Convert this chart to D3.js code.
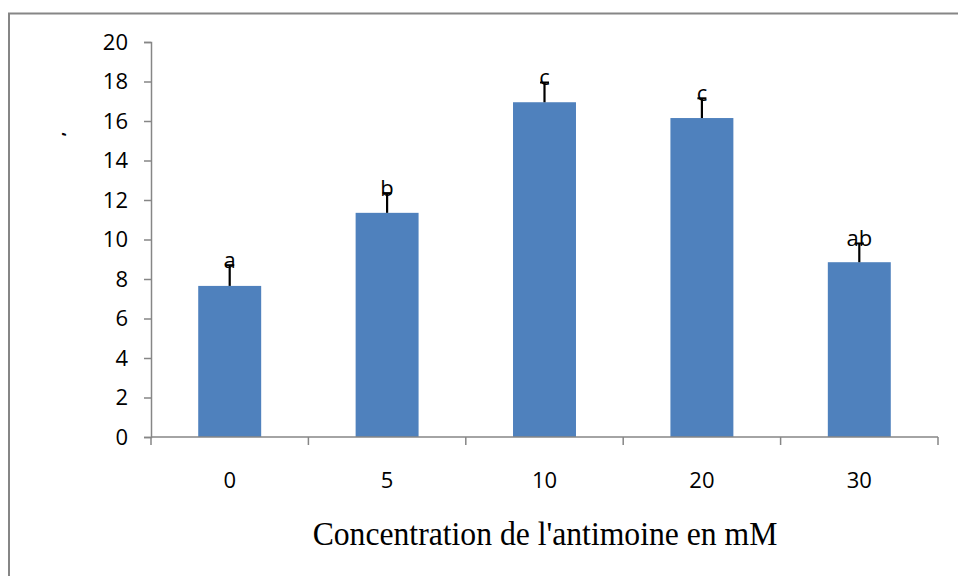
<!DOCTYPE html>
<html>
<head>
<meta charset="utf-8">
<script src="https://cdn.jsdelivr.net/npm/d3@7"></script>
<style>
  body { margin: 0; background: #fff; }
  svg { display: block; }
</style>
</head>
<body>
<svg width="958" height="576"></svg>
<script>
// ### Data ###
var categories = ['0', '5', '10', '20', '30'];
var means = [7.65, 11.35, 16.95, 16.15, 8.85];
var errors = [1.05, 1.0, 1.0, 1.0, 0.95];
var letters = ['a', 'b', 'c', 'c', 'ab'];
var yTicks = [0, 2, 4, 6, 8, 10, 12, 14, 16, 18, 20];

var svg = d3.select('svg');

// outer frame (clipped on right & bottom like the picture)
svg.append('path')
  .attr('d', 'M9,576 V13.5 H958')
  .attr('fill', 'none')
  .attr('stroke', '#868686')
  .attr('stroke-width', 2);

var margin = {left: 151, right: 20, top: 42, bottom: 139};
var plotW = 938 - margin.left;

var x = d3.scaleBand()
  .domain(categories)
  .range([margin.left, margin.left + plotW])
  .paddingInner(0.6)
  .paddingOuter(0.3);

var y = d3.scaleLinear()
  .domain([0, 20])
  .range([437, 42]);

// ### Bars ###
svg.selectAll('rect.bar')
  .data(means)
  .enter()
  .append('rect')
  .attr('class', 'bar')
  .attr('x', (d, i) => x(categories[i]))
  .attr('y', d => y(d))
  .attr('width', x.bandwidth())
  .attr('height', d => y(0) - y(d))
  .attr('fill', '#4f81bd');

// ### Error bars ###
var eb = svg.selectAll('g.err')
  .data(means)
  .enter()
  .append('g')
  .attr('class', 'err');

eb.append('line')
  .attr('x1', (d, i) => x(categories[i]) + x.bandwidth() / 2)
  .attr('x2', (d, i) => x(categories[i]) + x.bandwidth() / 2)
  .attr('y1', d => y(d))
  .attr('y2', (d, i) => y(d + errors[i]))
  .attr('stroke', '#000')
  .attr('stroke-width', 2.2);

eb.append('line')
  .attr('x1', (d, i) => x(categories[i]) + x.bandwidth() / 2 - 4.5)
  .attr('x2', (d, i) => x(categories[i]) + x.bandwidth() / 2 + 4.5)
  .attr('y1', (d, i) => y(d + errors[i]))
  .attr('y2', (d, i) => y(d + errors[i]))
  .attr('stroke', '#000')
  .attr('stroke-width', 2);

// ### Letters ###
svg.selectAll('text.sig')
  .data(means)
  .enter()
  .append('text')
  .attr('class', 'sig')
  .attr('x', (d, i) => x(categories[i]) + x.bandwidth() / 2)
  .attr('y', (d, i) => y(d + errors[i]) + 3)
  .attr('text-anchor', 'middle')
  .attr('font-family', 'Open Sans, sans-serif')
  .attr('font-size', 22)
  .attr('fill', '#000')
  .text((d, i) => letters[i]);

// ### Axes ###
var yAxis = d3.axisLeft(y)
  .tickValues(yTicks)
  .tickSize(7)
  .tickPadding(16)
  .tickFormat(d3.format('d'));

var gy = svg.append('g')
  .attr('transform', 'translate(' + margin.left + ',0)')
  .call(yAxis);

var xAxis = d3.axisBottom(x).tickSize(0).tickPadding(35);

var gx = svg.append('g')
  .attr('transform', 'translate(0,437)')
  .call(xAxis);

// tick marks between categories
var bounds = [0, 1, 2, 3, 4, 5].map(i => margin.left + i * plotW / 5);
gx.selectAll('line.sep')
  .data(bounds)
  .enter()
  .append('line')
  .attr('class', 'sep')
  .attr('x1', d => d).attr('x2', d => d)
  .attr('y1', 0).attr('y2', 8)
  .attr('stroke', '#868686')
  .attr('stroke-width', 1.5);

[gx, gy].forEach(function(g) {
  g.select('.domain').attr('stroke', '#868686').attr('stroke-width', 1.5);
  g.selectAll('.tick line').attr('stroke', '#868686').attr('stroke-width', 1.5);
  g.selectAll('.tick text')
    .attr('font-family', 'Open Sans, sans-serif')
    .attr('font-size', 22)
    .attr('fill', '#000');
});
gx.select('.domain').attr('d', 'M' + margin.left + ',0H' + (margin.left + plotW));

// ### Axis titles ###
svg.append('text')
  .attr('x', 545)
  .attr('y', 545)
  .attr('text-anchor', 'middle')
  .attr('font-family', 'Liberation Serif, serif')
  .attr('font-size', 33)
  .attr('transform', 'translate(545,545) scale(0.96,1) translate(-545,-545)')
  .attr('fill', '#000')
  .text("Concentration de l'antimoine en mM");

// tiny remnant of the y title
svg.append('text')
  .attr('transform', 'translate(64,134) rotate(-90)')
  .attr('text-anchor', 'middle')
  .attr('font-family', 'Open Sans, sans-serif')
  .attr('font-size', 16)
  .attr('font-weight', 'bold')
  .text(',');
</script>
</body>
</html>
